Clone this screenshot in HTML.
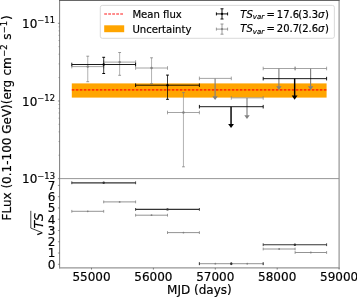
<!DOCTYPE html>
<html><head><meta charset="utf-8"><title>Light curve</title>
<style>html,body{margin:0;padding:0;background:#fff;overflow:hidden}svg{display:block}text{stroke:#000;stroke-width:0.18px}</style>
</head><body>
<svg width="357" height="297" viewBox="0 0 357 297" font-family="DejaVu Sans, Liberation Sans, sans-serif" fill="#000">
<rect x="71.80" y="83.4" width="254.80" height="14.2" fill="#ffa500"/>
<line x1="71.80" y1="89.9" x2="326.60" y2="89.9" stroke="#ff0000" stroke-opacity="0.68" stroke-width="1.6" stroke-dasharray="2.6 1.4"/>
<line x1="71.80" y1="66.60" x2="103.70" y2="66.60" stroke="#808080" stroke-width="0.72" />
<line x1="71.80" y1="64.80" x2="71.80" y2="68.40" stroke="#808080" stroke-width="0.72" />
<line x1="103.70" y1="64.80" x2="103.70" y2="68.40" stroke="#808080" stroke-width="0.72" />
<line x1="87.75" y1="56.20" x2="87.75" y2="81.70" stroke="#808080" stroke-width="0.612" />
<line x1="86.35" y1="56.20" x2="89.15" y2="56.20" stroke="#808080" stroke-width="0.792" />
<line x1="86.35" y1="81.70" x2="89.15" y2="81.70" stroke="#808080" stroke-width="0.792" />
<circle cx="87.75" cy="66.60" r="1.2" fill="#808080"/>
<line x1="103.70" y1="62.10" x2="135.60" y2="62.10" stroke="#808080" stroke-width="0.72" />
<line x1="103.70" y1="60.30" x2="103.70" y2="63.90" stroke="#808080" stroke-width="0.72" />
<line x1="135.60" y1="60.30" x2="135.60" y2="63.90" stroke="#808080" stroke-width="0.72" />
<line x1="119.65" y1="52.50" x2="119.65" y2="75.30" stroke="#808080" stroke-width="0.612" />
<line x1="118.25" y1="52.50" x2="121.05" y2="52.50" stroke="#808080" stroke-width="0.792" />
<line x1="118.25" y1="75.30" x2="121.05" y2="75.30" stroke="#808080" stroke-width="0.792" />
<circle cx="119.65" cy="62.10" r="1.2" fill="#808080"/>
<line x1="135.60" y1="68.00" x2="167.50" y2="68.00" stroke="#808080" stroke-width="0.72" />
<line x1="135.60" y1="66.20" x2="135.60" y2="69.80" stroke="#808080" stroke-width="0.72" />
<line x1="167.50" y1="66.20" x2="167.50" y2="69.80" stroke="#808080" stroke-width="0.72" />
<line x1="151.55" y1="57.80" x2="151.55" y2="83.60" stroke="#808080" stroke-width="0.612" />
<line x1="150.15" y1="57.80" x2="152.95" y2="57.80" stroke="#808080" stroke-width="0.792" />
<line x1="150.15" y1="83.60" x2="152.95" y2="83.60" stroke="#808080" stroke-width="0.792" />
<circle cx="151.55" cy="68.00" r="1.2" fill="#808080"/>
<line x1="167.50" y1="112.50" x2="199.40" y2="112.50" stroke="#808080" stroke-width="0.72" />
<line x1="167.50" y1="110.70" x2="167.50" y2="114.30" stroke="#808080" stroke-width="0.72" />
<line x1="199.40" y1="110.70" x2="199.40" y2="114.30" stroke="#808080" stroke-width="0.72" />
<line x1="183.45" y1="92.60" x2="183.45" y2="166.80" stroke="#808080" stroke-width="0.612" />
<line x1="182.05" y1="92.60" x2="184.85" y2="92.60" stroke="#808080" stroke-width="0.792" />
<line x1="182.05" y1="166.80" x2="184.85" y2="166.80" stroke="#808080" stroke-width="0.792" />
<circle cx="183.45" cy="112.50" r="1.2" fill="#808080"/>
<line x1="199.40" y1="78.40" x2="231.30" y2="78.40" stroke="#808080" stroke-width="0.72" />
<line x1="199.40" y1="76.60" x2="199.40" y2="80.20" stroke="#808080" stroke-width="0.72" />
<line x1="231.30" y1="76.60" x2="231.30" y2="80.20" stroke="#808080" stroke-width="0.72" />
<line x1="215.10" y1="78.40" x2="215.10" y2="96.80" stroke="#808080" stroke-width="1.15" />
<polygon points="212.40,96.30 217.80,96.30 215.10,100.10" fill="#808080"/>
<line x1="231.30" y1="97.90" x2="263.20" y2="97.90" stroke="#808080" stroke-width="0.72" />
<line x1="231.30" y1="96.10" x2="231.30" y2="99.70" stroke="#808080" stroke-width="0.72" />
<line x1="263.20" y1="96.10" x2="263.20" y2="99.70" stroke="#808080" stroke-width="0.72" />
<line x1="247.00" y1="97.90" x2="247.00" y2="115.70" stroke="#808080" stroke-width="1.15" />
<polygon points="244.30,115.20 249.70,115.20 247.00,119.00" fill="#808080"/>
<line x1="263.20" y1="68.50" x2="295.10" y2="68.50" stroke="#808080" stroke-width="0.72" />
<line x1="263.20" y1="66.70" x2="263.20" y2="70.30" stroke="#808080" stroke-width="0.72" />
<line x1="295.10" y1="66.70" x2="295.10" y2="70.30" stroke="#808080" stroke-width="0.72" />
<line x1="278.90" y1="68.50" x2="278.90" y2="86.70" stroke="#808080" stroke-width="1.15" />
<polygon points="276.20,86.20 281.60,86.20 278.90,90.00" fill="#808080"/>
<line x1="295.10" y1="68.50" x2="326.60" y2="68.50" stroke="#808080" stroke-width="0.72" />
<line x1="295.10" y1="66.70" x2="295.10" y2="70.30" stroke="#808080" stroke-width="0.72" />
<line x1="326.60" y1="66.70" x2="326.60" y2="70.30" stroke="#808080" stroke-width="0.72" />
<line x1="310.60" y1="68.50" x2="310.60" y2="86.70" stroke="#808080" stroke-width="1.15" />
<polygon points="307.90,86.20 313.30,86.20 310.60,90.00" fill="#808080"/>
<line x1="71.80" y1="64.50" x2="135.60" y2="64.50" stroke="#000" stroke-width="0.9" />
<line x1="71.80" y1="62.70" x2="71.80" y2="66.30" stroke="#000" stroke-width="0.9" />
<line x1="135.60" y1="62.70" x2="135.60" y2="66.30" stroke="#000" stroke-width="0.9" />
<line x1="103.70" y1="57.30" x2="103.70" y2="73.50" stroke="#000" stroke-width="0.765" />
<line x1="102.30" y1="57.30" x2="105.10" y2="57.30" stroke="#000" stroke-width="0.9900000000000001" />
<line x1="102.30" y1="73.50" x2="105.10" y2="73.50" stroke="#000" stroke-width="0.9900000000000001" />
<circle cx="103.70" cy="64.50" r="1.2" fill="#000"/>
<line x1="135.60" y1="85.20" x2="199.40" y2="85.20" stroke="#000" stroke-width="0.9" />
<line x1="135.60" y1="83.40" x2="135.60" y2="87.00" stroke="#000" stroke-width="0.9" />
<line x1="199.40" y1="83.40" x2="199.40" y2="87.00" stroke="#000" stroke-width="0.9" />
<line x1="167.50" y1="75.10" x2="167.50" y2="99.30" stroke="#000" stroke-width="0.765" />
<line x1="166.10" y1="75.10" x2="168.90" y2="75.10" stroke="#000" stroke-width="0.9900000000000001" />
<line x1="166.10" y1="99.30" x2="168.90" y2="99.30" stroke="#000" stroke-width="0.9900000000000001" />
<circle cx="167.50" cy="85.20" r="1.2" fill="#000"/>
<line x1="199.40" y1="106.70" x2="263.20" y2="106.70" stroke="#000" stroke-width="0.9" />
<line x1="199.40" y1="104.90" x2="199.40" y2="108.50" stroke="#000" stroke-width="0.9" />
<line x1="263.20" y1="104.90" x2="263.20" y2="108.50" stroke="#000" stroke-width="0.9" />
<line x1="231.05" y1="106.70" x2="231.05" y2="124.40" stroke="#000" stroke-width="1.45" />
<polygon points="228.15,123.90 233.95,123.90 231.05,128.10" fill="#000"/>
<line x1="263.20" y1="78.65" x2="326.60" y2="78.65" stroke="#000" stroke-width="0.9" />
<line x1="263.20" y1="76.85" x2="263.20" y2="80.45" stroke="#000" stroke-width="0.9" />
<line x1="326.60" y1="76.85" x2="326.60" y2="80.45" stroke="#000" stroke-width="0.9" />
<line x1="294.65" y1="78.65" x2="294.65" y2="96.10" stroke="#000" stroke-width="1.45" />
<polygon points="291.75,95.60 297.55,95.60 294.65,99.80" fill="#000"/>
<line x1="71.80" y1="182.80" x2="135.60" y2="182.80" stroke="#333" stroke-width="1.15" />
<line x1="135.60" y1="209.40" x2="199.40" y2="209.40" stroke="#333" stroke-width="1.15" />
<line x1="263.20" y1="244.70" x2="326.60" y2="244.70" stroke="#333" stroke-width="1.15" />
<line x1="71.80" y1="211.30" x2="103.70" y2="211.30" stroke="#808080" stroke-width="0.85" />
<line x1="103.70" y1="201.90" x2="135.60" y2="201.90" stroke="#808080" stroke-width="0.85" />
<line x1="135.60" y1="215.20" x2="167.50" y2="215.20" stroke="#808080" stroke-width="0.85" />
<line x1="167.50" y1="232.60" x2="199.40" y2="232.60" stroke="#808080" stroke-width="0.85" />
<line x1="199.40" y1="263.70" x2="231.30" y2="263.70" stroke="#808080" stroke-width="0.85" />
<line x1="231.30" y1="263.70" x2="263.20" y2="263.70" stroke="#808080" stroke-width="0.85" />
<line x1="263.20" y1="249.00" x2="295.10" y2="249.00" stroke="#808080" stroke-width="0.85" />
<line x1="295.10" y1="252.50" x2="326.60" y2="252.50" stroke="#808080" stroke-width="0.85" />
<line x1="71.80" y1="209.90" x2="71.80" y2="212.70" stroke="#808080" stroke-width="0.8" />
<line x1="103.70" y1="209.90" x2="103.70" y2="212.70" stroke="#808080" stroke-width="0.8" />
<circle cx="87.75" cy="211.30" r="0.9" fill="#808080"/>
<line x1="103.70" y1="200.50" x2="103.70" y2="203.30" stroke="#808080" stroke-width="0.8" />
<line x1="135.60" y1="200.50" x2="135.60" y2="203.30" stroke="#808080" stroke-width="0.8" />
<circle cx="119.65" cy="201.90" r="0.9" fill="#808080"/>
<line x1="135.60" y1="213.80" x2="135.60" y2="216.60" stroke="#808080" stroke-width="0.8" />
<line x1="167.50" y1="213.80" x2="167.50" y2="216.60" stroke="#808080" stroke-width="0.8" />
<circle cx="151.55" cy="215.20" r="0.9" fill="#808080"/>
<line x1="167.50" y1="231.20" x2="167.50" y2="234.00" stroke="#808080" stroke-width="0.8" />
<line x1="199.40" y1="231.20" x2="199.40" y2="234.00" stroke="#808080" stroke-width="0.8" />
<circle cx="183.45" cy="232.60" r="0.9" fill="#808080"/>
<line x1="199.40" y1="262.30" x2="199.40" y2="265.10" stroke="#808080" stroke-width="0.8" />
<line x1="231.30" y1="262.30" x2="231.30" y2="265.10" stroke="#808080" stroke-width="0.8" />
<circle cx="215.35" cy="263.70" r="0.9" fill="#808080"/>
<line x1="231.30" y1="262.30" x2="231.30" y2="265.10" stroke="#808080" stroke-width="0.8" />
<line x1="263.20" y1="262.30" x2="263.20" y2="265.10" stroke="#808080" stroke-width="0.8" />
<circle cx="247.25" cy="263.70" r="0.9" fill="#808080"/>
<line x1="263.20" y1="247.60" x2="263.20" y2="250.40" stroke="#808080" stroke-width="0.8" />
<line x1="295.10" y1="247.60" x2="295.10" y2="250.40" stroke="#808080" stroke-width="0.8" />
<circle cx="279.15" cy="249.00" r="0.9" fill="#808080"/>
<line x1="295.10" y1="251.10" x2="295.10" y2="253.90" stroke="#808080" stroke-width="0.8" />
<line x1="326.60" y1="251.10" x2="326.60" y2="253.90" stroke="#808080" stroke-width="0.8" />
<circle cx="310.85" cy="252.50" r="0.9" fill="#808080"/>
<line x1="71.80" y1="181.40" x2="71.80" y2="184.20" stroke="#333" stroke-width="0.9" />
<line x1="135.60" y1="181.40" x2="135.60" y2="184.20" stroke="#333" stroke-width="0.9" />
<circle cx="103.70" cy="182.80" r="1.2" fill="#333"/>
<line x1="135.60" y1="208.00" x2="135.60" y2="210.80" stroke="#333" stroke-width="0.9" />
<line x1="199.40" y1="208.00" x2="199.40" y2="210.80" stroke="#333" stroke-width="0.9" />
<circle cx="167.50" cy="209.40" r="1.2" fill="#333"/>
<line x1="199.40" y1="262.30" x2="199.40" y2="265.10" stroke="#333" stroke-width="0.9" />
<line x1="263.20" y1="262.30" x2="263.20" y2="265.10" stroke="#333" stroke-width="0.9" />
<circle cx="231.30" cy="263.70" r="1.2" fill="#333"/>
<line x1="263.20" y1="243.30" x2="263.20" y2="246.10" stroke="#333" stroke-width="0.9" />
<line x1="326.60" y1="243.30" x2="326.60" y2="246.10" stroke="#333" stroke-width="0.9" />
<circle cx="294.90" cy="244.70" r="1.2" fill="#333"/>
<line x1="59.62" y1="0.00" x2="59.62" y2="268.40" stroke="#747474" stroke-width="0.95" />
<line x1="339.10" y1="0.00" x2="339.10" y2="268.40" stroke="#8c8c8c" stroke-width="1.1" />
<line x1="59.12" y1="0.40" x2="339.60" y2="0.40" stroke="#555" stroke-width="1.0" />
<line x1="59.62" y1="178.60" x2="339.10" y2="178.60" stroke="#929292" stroke-width="0.95" />
<line x1="59.12" y1="267.90" x2="339.60" y2="267.90" stroke="#969696" stroke-width="1.1" />
<line x1="57.92" y1="23.30" x2="59.62" y2="23.30" stroke="#555" stroke-width="0.6" />
<line x1="57.92" y1="101.00" x2="59.62" y2="101.00" stroke="#555" stroke-width="0.6" />
<line x1="57.92" y1="178.60" x2="59.62" y2="178.60" stroke="#555" stroke-width="0.6" />
<line x1="58.42" y1="155.23" x2="59.62" y2="155.23" stroke="#555" stroke-width="0.4" />
<line x1="58.42" y1="141.55" x2="59.62" y2="141.55" stroke="#555" stroke-width="0.4" />
<line x1="58.42" y1="131.85" x2="59.62" y2="131.85" stroke="#555" stroke-width="0.4" />
<line x1="58.42" y1="124.32" x2="59.62" y2="124.32" stroke="#555" stroke-width="0.4" />
<line x1="58.42" y1="118.18" x2="59.62" y2="118.18" stroke="#555" stroke-width="0.4" />
<line x1="58.42" y1="112.98" x2="59.62" y2="112.98" stroke="#555" stroke-width="0.4" />
<line x1="58.42" y1="108.48" x2="59.62" y2="108.48" stroke="#555" stroke-width="0.4" />
<line x1="58.42" y1="104.50" x2="59.62" y2="104.50" stroke="#555" stroke-width="0.4" />
<line x1="58.42" y1="77.58" x2="59.62" y2="77.58" stroke="#555" stroke-width="0.4" />
<line x1="58.42" y1="63.90" x2="59.62" y2="63.90" stroke="#555" stroke-width="0.4" />
<line x1="58.42" y1="54.20" x2="59.62" y2="54.20" stroke="#555" stroke-width="0.4" />
<line x1="58.42" y1="46.67" x2="59.62" y2="46.67" stroke="#555" stroke-width="0.4" />
<line x1="58.42" y1="40.53" x2="59.62" y2="40.53" stroke="#555" stroke-width="0.4" />
<line x1="58.42" y1="35.33" x2="59.62" y2="35.33" stroke="#555" stroke-width="0.4" />
<line x1="58.42" y1="30.83" x2="59.62" y2="30.83" stroke="#555" stroke-width="0.4" />
<line x1="58.42" y1="26.85" x2="59.62" y2="26.85" stroke="#555" stroke-width="0.4" />
<line x1="57.92" y1="264.30" x2="59.62" y2="264.30" stroke="#555" stroke-width="0.6" />
<line x1="57.92" y1="253.03" x2="59.62" y2="253.03" stroke="#555" stroke-width="0.6" />
<line x1="57.92" y1="241.76" x2="59.62" y2="241.76" stroke="#555" stroke-width="0.6" />
<line x1="57.92" y1="230.49" x2="59.62" y2="230.49" stroke="#555" stroke-width="0.6" />
<line x1="57.92" y1="219.22" x2="59.62" y2="219.22" stroke="#555" stroke-width="0.6" />
<line x1="57.92" y1="207.95" x2="59.62" y2="207.95" stroke="#555" stroke-width="0.6" />
<line x1="57.92" y1="196.68" x2="59.62" y2="196.68" stroke="#555" stroke-width="0.6" />
<line x1="57.92" y1="185.41" x2="59.62" y2="185.41" stroke="#555" stroke-width="0.6" />
<line x1="91.50" y1="267.90" x2="91.50" y2="269.60" stroke="#555" stroke-width="0.7" />
<line x1="153.40" y1="267.90" x2="153.40" y2="269.60" stroke="#555" stroke-width="0.7" />
<line x1="215.30" y1="267.90" x2="215.30" y2="269.60" stroke="#555" stroke-width="0.7" />
<line x1="277.20" y1="267.90" x2="277.20" y2="269.60" stroke="#555" stroke-width="0.7" />
<line x1="339.10" y1="267.90" x2="339.10" y2="269.60" stroke="#555" stroke-width="0.7" />
<text x="91.50" y="280.90" font-size="12" text-anchor="middle" >55000</text>
<text x="153.40" y="280.90" font-size="12" text-anchor="middle" >56000</text>
<text x="215.30" y="280.90" font-size="12" text-anchor="middle" >57000</text>
<text x="277.20" y="280.90" font-size="12" text-anchor="middle" >58000</text>
<text x="339.10" y="280.90" font-size="12" text-anchor="middle" >59000</text>
<text x="199.40" y="294.40" font-size="12" text-anchor="middle" >MJD (days)</text>
<text x="55.40" y="268.70" font-size="12" text-anchor="end" >0</text>
<text x="55.40" y="257.43" font-size="12" text-anchor="end" >1</text>
<text x="55.40" y="246.16" font-size="12" text-anchor="end" >2</text>
<text x="55.40" y="234.89" font-size="12" text-anchor="end" >3</text>
<text x="55.40" y="223.62" font-size="12" text-anchor="end" >4</text>
<text x="55.40" y="212.35" font-size="12" text-anchor="end" >5</text>
<text x="55.40" y="201.08" font-size="12" text-anchor="end" >6</text>
<text x="55.40" y="189.81" font-size="12" text-anchor="end" >7</text>
<text x="55.0" y="27.90" font-size="12" text-anchor="end">10<tspan font-size="8.4" dy="-4.6">−11</tspan></text>
<text x="55.0" y="105.60" font-size="12" text-anchor="end">10<tspan font-size="8.4" dy="-4.6">−12</tspan></text>
<text x="55.0" y="183.20" font-size="12" text-anchor="end">10<tspan font-size="8.4" dy="-4.6">−13</tspan></text>
<text transform="translate(11.4,220.5) rotate(-90)" font-size="12">FLux (0.1-100 GeV)(erg<tspan dx="0.4"> cm</tspan><tspan font-size="8.4" dy="-4.1" dx="0.6">−2</tspan><tspan dy="4.1" dx="0.7"> s</tspan><tspan font-size="8.4" dy="-4.1" dx="0.2">−1</tspan><tspan dy="4.1" dx="1.0">)</tspan></text>
<g transform="translate(42.6,238.5) rotate(-90)"><text x="9.9" y="0" font-size="12.6" font-style="italic">TS</text><path d="M3.9,-5.3 L5.8,-0.3" fill="none" stroke="#000" stroke-width="1.2"/><path d="M5.8,-0.3 L10.4,-11.8 L27.7,-11.8" fill="none" stroke="#000" stroke-width="0.75"/></g>
<rect x="100.3" y="5.4" width="234.1" height="32.9" rx="2" ry="2" fill="#fff" fill-opacity="0.8" stroke="#ccc" stroke-opacity="0.8" stroke-width="0.9"/>
<line x1="104.2" y1="13.9" x2="124.2" y2="13.9" stroke="#ff0000" stroke-opacity="0.6" stroke-width="1.5" stroke-dasharray="2.8 1.2"/>
<rect x="104.2" y="25.3" width="20" height="6.9" fill="#ffa500"/>
<text x="132.40" y="17.90" font-size="10.1" text-anchor="start" >Mean flux</text>
<text x="132.40" y="32.50" font-size="10.1" text-anchor="start" >Uncertainty</text>
<line x1="216.40" y1="13.90" x2="227.60" y2="13.90" stroke="#000" stroke-width="0.95" />
<line x1="222.00" y1="8.80" x2="222.00" y2="19.00" stroke="#000" stroke-width="0.95" />
<line x1="216.40" y1="12.40" x2="216.40" y2="15.40" stroke="#000" stroke-width="0.95" />
<line x1="227.60" y1="12.40" x2="227.60" y2="15.40" stroke="#000" stroke-width="0.95" />
<line x1="220.50" y1="8.80" x2="223.50" y2="8.80" stroke="#000" stroke-width="0.95" />
<line x1="220.50" y1="19.00" x2="223.50" y2="19.00" stroke="#000" stroke-width="0.95" />
<circle cx="222" cy="13.9" r="1.1" fill="#000"/>
<line x1="216.40" y1="29.10" x2="227.60" y2="29.10" stroke="#808080" stroke-width="0.8" />
<line x1="222.00" y1="24.00" x2="222.00" y2="34.20" stroke="#808080" stroke-width="0.8" />
<line x1="216.40" y1="27.60" x2="216.40" y2="30.60" stroke="#808080" stroke-width="0.8" />
<line x1="227.60" y1="27.60" x2="227.60" y2="30.60" stroke="#808080" stroke-width="0.8" />
<line x1="220.50" y1="24.00" x2="223.50" y2="24.00" stroke="#808080" stroke-width="0.8" />
<line x1="220.50" y1="34.20" x2="223.50" y2="34.20" stroke="#808080" stroke-width="0.8" />
<circle cx="222" cy="29.1" r="1.1" fill="#808080"/>
<text x="240.3" y="17.5" font-size="10"><tspan font-style="italic">TS</tspan><tspan font-style="italic" font-size="7" dy="1.6">var</tspan><tspan dy="-1.6" dx="2.4">=</tspan><tspan dx="2.0">17.6</tspan><tspan dx="-0.9">(</tspan>3.3<tspan font-style="italic">σ</tspan><tspan dx="0.6">)</tspan></text>
<text x="240.3" y="32.0" font-size="10"><tspan font-style="italic">TS</tspan><tspan font-style="italic" font-size="7" dy="1.6">var</tspan><tspan dy="-1.6" dx="2.4">=</tspan><tspan dx="2.0">20.7</tspan><tspan dx="-0.9">(</tspan>2.6<tspan font-style="italic">σ</tspan><tspan dx="0.6">)</tspan></text>
</svg>
</body></html>
